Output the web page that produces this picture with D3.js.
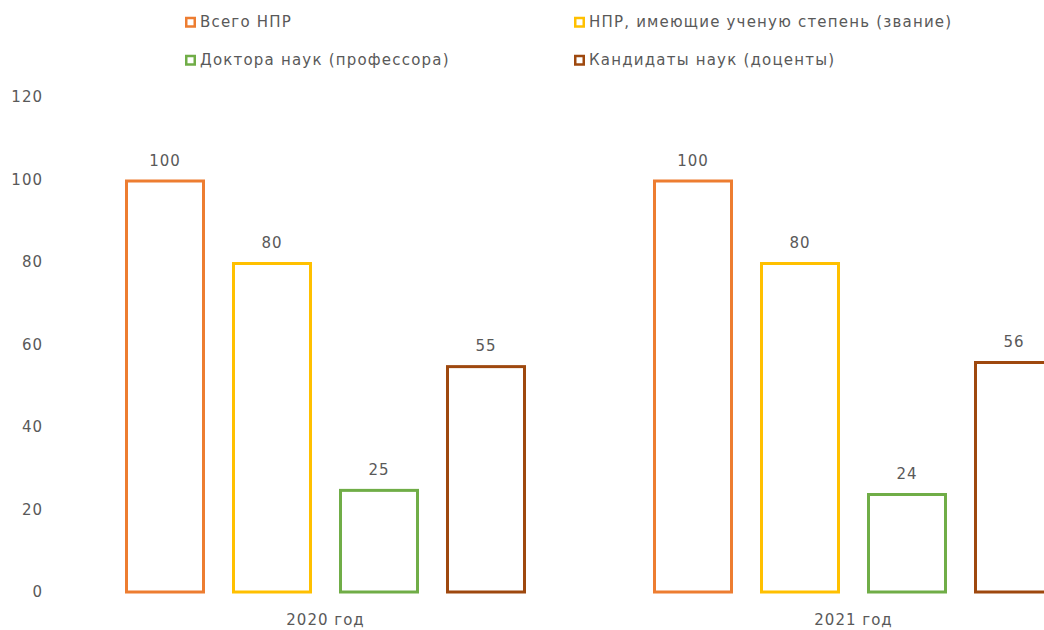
<!DOCTYPE html>
<html>
<head>
<meta charset="utf-8">
<script src="https://cdn.jsdelivr.net/npm/d3@7"></script>
<style>
  body { margin: 0; background: #fff; }
  text { font-family: "DejaVu Sans", sans-serif; fill: #595959; }
</style>
</head>
<body>
<svg id="chart" width="1044" height="630"></svg>
<script>
const years = ['2020 год', '2021 год']
const series = ['Всего НПР', 'НПР, имеющие ученую степень (звание)', 'Доктора наук (профессора)', 'Кандидаты наук (доценты)']
const colors = ['#ED7D31', '#FFC000', '#70AD47', '#9E480E']
const values2020 = [100, 80, 25, 55]
const values2021 = [100, 80, 24, 56]
const yTicks = [0, 20, 40, 60, 80, 100, 120]

const allValues = [values2020, values2021]

let svg = d3.select('#chart')

let y = d3.scaleLinear()
  .domain([0, 120])
  .range([592, 97])

// the plot runs past the right edge, like in the picture
let x0 = d3.scaleBand()
  .domain(years)
  .range([61.5, 1117.5])

let x1 = d3.scaleBand()
  .domain(series)
  .range([63.5, x0.bandwidth() - 63.5])
  .paddingInner(27 / 107)

let yAxis = d3.axisLeft(y)
  .tickValues(yTicks)
  .tickSize(0)
  .tickPadding(0)
svg.append('g')
  .attr('transform', 'translate(43, 0)')
  .call(yAxis)
  .call(g => g.select('.domain').remove())
  .selectAll('text')
  .style('font-size', '15px')
  .style('letter-spacing', '1px')
  .attr('fill', '#595959')

let groups = svg.selectAll('g.year')
  .data(years)
  .enter()
  .append('g')
  .attr('class', 'year')
  .attr('transform', d => `translate(${x0(d)}, 0)`)

groups.selectAll('rect')
  .data((d, i) => allValues[i].map((v, j) => ({ name: series[j], value: v, color: colors[j] })))
  .enter()
  .append('rect')
  .attr('x', d => x1(d.name) + 1.5)
  .attr('width', x1.bandwidth() - 3)
  .attr('y', d => y(d.value) + 1.5)
  .attr('height', d => y(0) - y(d.value) - 1.5)
  .attr('fill', 'none')
  .attr('stroke', d => d.color)
  .attr('stroke-width', 3)

groups.selectAll('text.val')
  .data((d, i) => allValues[i].map((v, j) => ({ name: series[j], value: v })))
  .enter()
  .append('text')
  .attr('class', 'val')
  .attr('x', d => x1(d.name) + x1.bandwidth() / 2)
  .attr('y', d => y(d.value) - 14)
  .attr('text-anchor', 'middle')
  .style('font-size', '15px')
  .style('letter-spacing', '1px')
  .text(d => d.value)

let xAxis = d3.axisBottom(x0).tickSize(0).tickPadding(0)
svg.append('g')
  .attr('transform', 'translate(0, 614)')
  .call(xAxis)
  .call(g => g.select('.domain').remove())
  .selectAll('text')
  .style('font-size', '15px')
  .style('letter-spacing', '1px')
  .attr('fill', '#595959')

// legend, two columns
let legendPos = [[185, 22], [574, 22], [185, 60], [574, 60]]
let order = [0, 1, 2, 3]
let legend = svg.selectAll('g.legend')
  .data(order)
  .enter()
  .append('g')
  .attr('class', 'legend')
  .attr('transform', i => `translate(${legendPos[i][0]}, ${legendPos[i][1]})`)

legend.append('rect')
  .attr('x', 1.25)
  .attr('y', -4)
  .attr('width', 8.5)
  .attr('height', 8.5)
  .attr('fill', '#fff')
  .attr('stroke', i => colors[i])
  .attr('stroke-width', 2.5)

legend.append('text')
  .attr('x', 15)
  .attr('dy', '0.35em')
  .style('font-size', '15px')
  .style('letter-spacing', '1.2px')
  .text(i => series[i])
</script>
</body>
</html>
